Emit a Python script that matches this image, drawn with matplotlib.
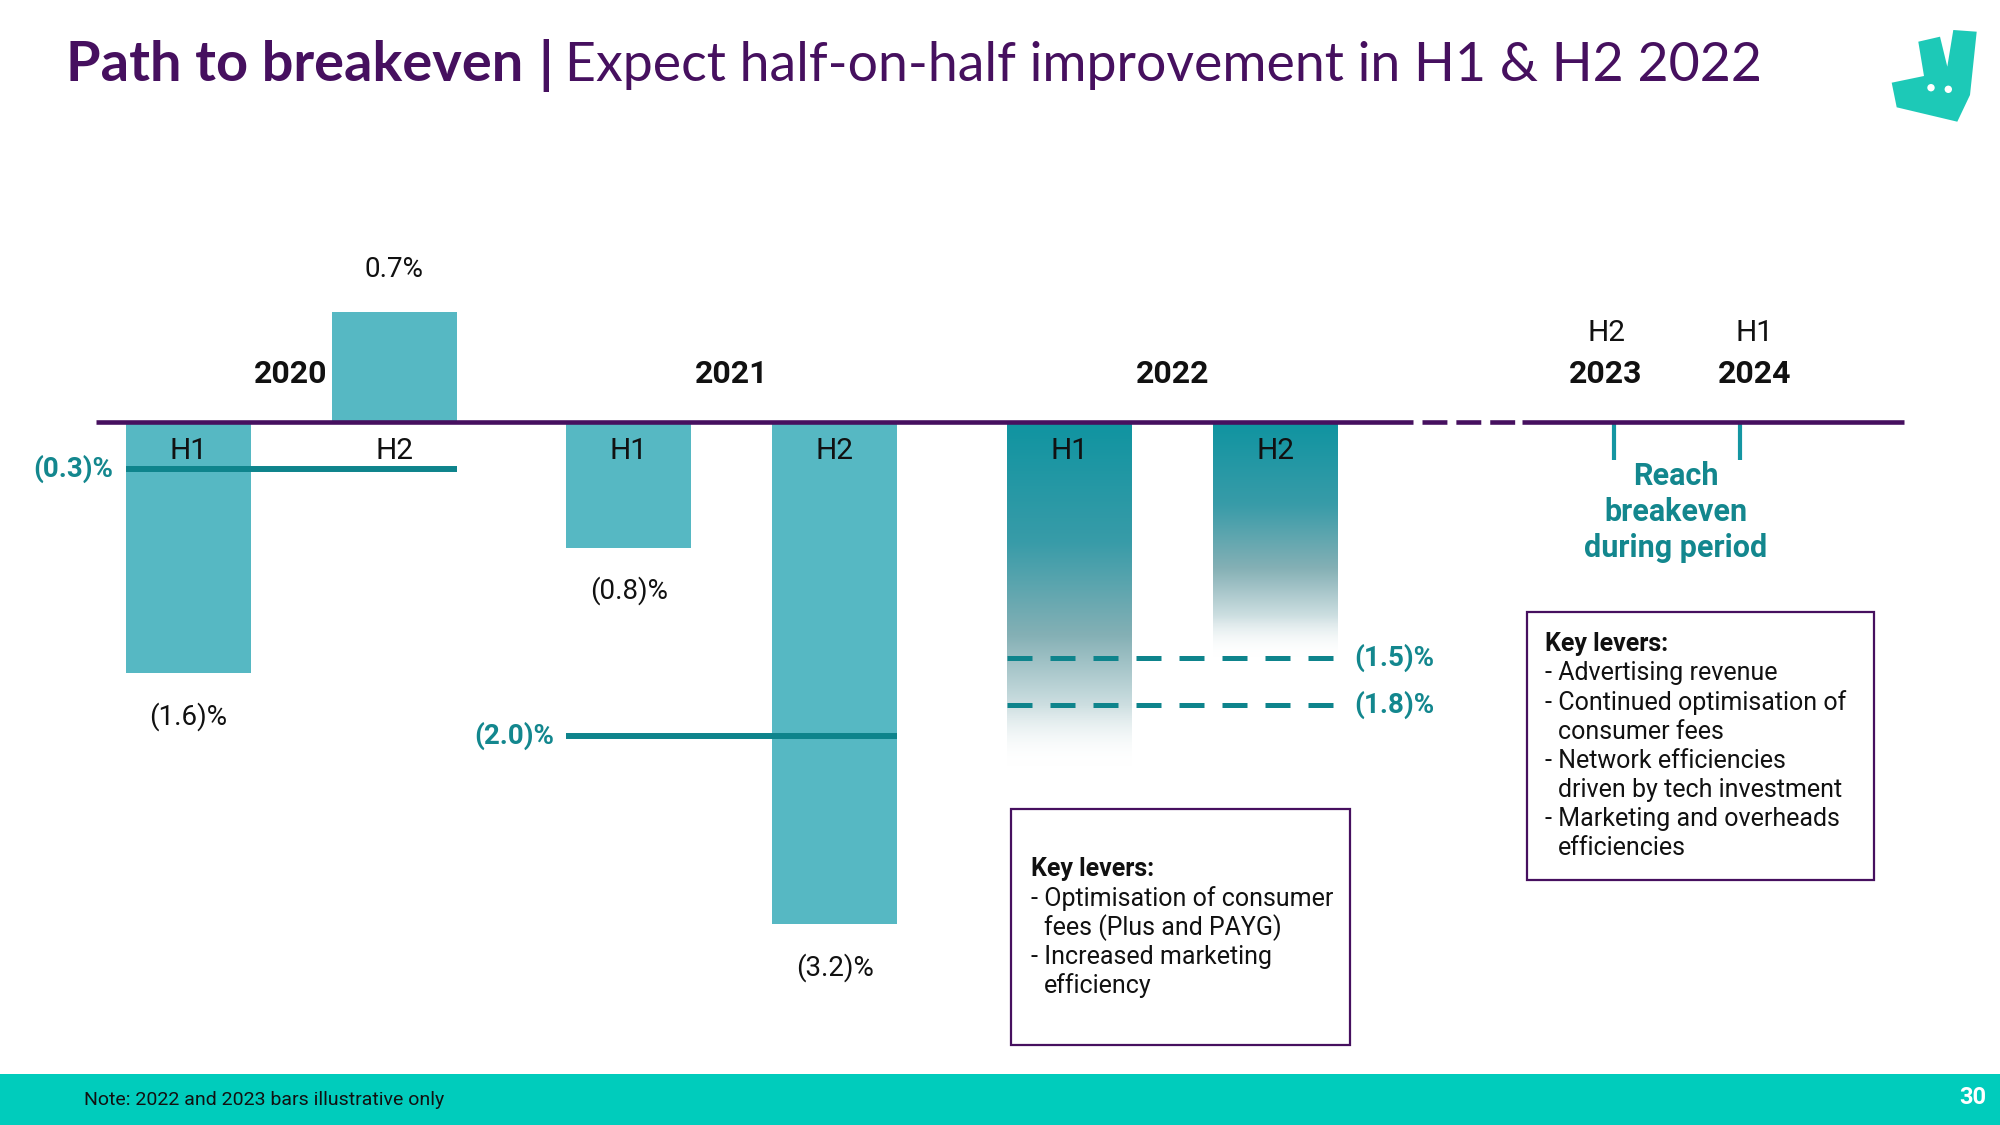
import numpy as np
import matplotlib
matplotlib.use("Agg")
import matplotlib.pyplot as plt
from matplotlib.patches import Rectangle, Polygon, Circle
from matplotlib.colors import LinearSegmentedColormap
from matplotlib.transforms import blended_transform_factory

# ---------------- data ----------------
years = ["2020", "2021", "2022"]
halves = ["H1", "H2"]
margin_2020 = [-1.6, 0.7]          # EBITDA margin by half, 2020
margin_2021 = [-0.8, -3.2]         # EBITDA margin by half, 2021
full_year_years = ["2020", "2021"]
full_year_margin = [-0.3, -2.0]
guidance_2022 = [-1.5, -1.8]
illustrative_2022 = [2.2, 1.5]     # depth of illustrative fading bars (H1, H2 2022)
breakeven_halves = ["H2", "H1"]
breakeven_years = ["2023", "2024"]
levers_2022 = ["- Optimisation of consumer", "  fees (Plus and PAYG)",
               "- Increased marketing", "  efficiency"]
levers_later = ["- Advertising revenue", "- Continued optimisation of",
                "  consumer fees", "- Network efficiencies",
                "  driven by tech investment", "- Marketing and overheads",
                "  efficiencies"]

# ---------------- style ----------------
PURPLE = "#46105F"
BAR = "#56B8C3"
TEAL_LINE = "#0E848C"
TEAL_TXT = "#13878E"
FOOTER = "#00CCBC"
FONT = "Roboto"
W, H = 2000, 1125
PT = 72 / 100  # points per pixel at dpi 100

fig = plt.figure(figsize=(20, 11.25), dpi=100)
bg = fig.add_axes([0, 0, 1, 1])
bg.set_xlim(0, W)
bg.set_ylim(H, 0)
bg.axis("off")

ax = fig.add_axes([0, 0, 1, 1])
ax.patch.set_alpha(0)
ax.axis("off")
SLOT = 206.0
X0 = 188.0
PX_PER_PCT = 157.0
ZERO_Y = 422.0
ax.set_xlim(-X0 / SLOT, (W - X0) / SLOT)
ax.set_ylim(-(H - ZERO_Y) / PX_PER_PCT, ZERO_Y / PX_PER_PCT)
GAP = 0.14
BW = 125 / SLOT


def pos(yi, hi):
    return yi * (2 + GAP) + hi


def fmt(v):
    return f"({abs(v):.1f})%" if v < 0 else f"{v:.1f}%"


# ---------------- zero line ----------------
mix = blended_transform_factory(bg.transData, ax.transData)
ax.plot([96, 1413], [0, 0], color=PURPLE, lw=3.3, transform=mix, solid_capstyle="butt", zorder=4)
ax.plot([1422, 1516], [0, 0], color=PURPLE, lw=3.3, transform=mix,
        linestyle=(0, (25 / 4.6, 9 / 4.6)), dash_capstyle="butt", zorder=4)
ax.plot([1522, 1904], [0, 0], color=PURPLE, lw=3.3, transform=mix, solid_capstyle="butt", zorder=4)

# ---------------- actual bars ----------------
actual = [margin_2020, margin_2021]
for yi, vals in enumerate(actual):
    for hi, v in enumerate(vals):
        x = pos(yi, hi)
        ax.bar(x, v, width=BW, color=BAR, zorder=2)
        off = 43 * PT if v > 0 else -43 * PT
        ax.annotate(fmt(v), (x, v), xytext=(0, off), textcoords="offset points",
                    ha="center", va="center", fontsize=20, family=FONT, color="#111111")

# ---------------- illustrative 2022 gradient bars ----------------
cmap = LinearSegmentedColormap.from_list(
    "fade", [(0.0, (0.06, 0.58, 0.63, 1.0)), (0.35, (0.22, 0.61, 0.66, 1.0)),
             (0.62, (0.52, 0.69, 0.71, 1.0)), (0.82, (0.80, 0.87, 0.88, 1.0)),
             (1.0, (1.0, 1.0, 1.0, 0.0))])
grad = np.linspace(0, 1, 256).reshape(-1, 1)
for hi, d in enumerate(illustrative_2022):
    x = pos(2, hi)
    ax.imshow(grad, cmap=cmap, extent=[x - BW / 2, x + BW / 2, -d, 0],
              origin="upper", aspect="auto", zorder=1, interpolation="bilinear")
ax.set_xlim(-X0 / SLOT, (W - X0) / SLOT)
ax.set_ylim(-(H - ZERO_Y) / PX_PER_PCT, ZERO_Y / PX_PER_PCT)

# ---------------- H labels and year labels ----------------
for yi, yr in enumerate(years):
    for hi, hl in enumerate(halves):
        ax.annotate(hl, (pos(yi, hi), 0), xytext=(0, -29 * PT), textcoords="offset points",
                    ha="center", va="center", fontsize=21.5, family=FONT, color="#111111", zorder=5)
    ax.annotate(yr, (pos(yi, 0) + 0.5, 0), xytext=(0, 48 * PT), textcoords="offset points",
                ha="center", va="center", fontsize=23, family=FONT, fontweight="bold",
                color="#111111", zorder=5)

# ---------------- full-year lines ----------------
for yi, (yr, v) in enumerate(zip(full_year_years, full_year_margin)):
    xl = pos(yi, 0) - BW / 2
    xr = pos(yi, 1) + BW / 2
    ax.plot([xl, xr], [v, v], color=TEAL_LINE, lw=4.3, solid_capstyle="butt", zorder=3)
    ax.annotate(fmt(v), (xl, v), xytext=(-12 * PT, 0), textcoords="offset points",
                ha="right", va="center", fontsize=20, family=FONT, fontweight="bold",
                color=TEAL_TXT)

# ---------------- 2022 guidance dashed lines ----------------
for v in guidance_2022:
    xl = pos(2, 0) - BW / 2
    xr = pos(2, 1) + BW / 2
    ax.plot([xl, xr], [v, v], color=TEAL_LINE, lw=3.6,
            linestyle=(0, (25 / 5, 18 / 5)), dash_capstyle="butt", zorder=3)
    ax.annotate(fmt(v), (xr, v), xytext=(16 * PT, 0), textcoords="offset points",
                ha="left", va="center", fontsize=20, family=FONT, fontweight="bold",
                color=TEAL_TXT)

# ---------------- breakeven period ----------------
be_x = [1606, 1755]
for x, hl, yr in zip(be_x, breakeven_halves, breakeven_years):
    bg.text(x, 333, hl, ha="center", va="center", fontsize=21.5, family=FONT, color="#111111")
    bg.text(x, 374, yr, ha="center", va="center", fontsize=23, family=FONT,
            fontweight="bold", color="#111111")
for x in [1614, 1740]:
    ax.plot([x, x], [0, -38 / PX_PER_PCT], color="#1496A2", lw=3, transform=mix,
            solid_capstyle="butt", zorder=3)
for i, line in enumerate(["Reach", "breakeven", "during period"]):
    bg.text(1676, 476 + i * 36, line, ha="center", va="center", fontsize=22,
            family=FONT, fontweight="bold", color=TEAL_TXT)

# ---------------- key levers boxes ----------------
def lever_box(x, y, w, h, tx, ty, lines):
    bg.add_patch(Rectangle((x, y), w, h, fill=False, edgecolor=PURPLE, lw=1.6))
    bg.text(tx, ty, "Key levers:", ha="left", va="center", fontsize=18, family=FONT,
            fontweight="bold", color="#111111")
    for i, ln in enumerate(lines):
        indent = 13 if ln.startswith("  ") else 0
        bg.text(tx + indent, ty + (i + 1) * 29.2, ln.strip(), ha="left", va="center",
                fontsize=18, family=FONT, color="#111111")


lever_box(1011, 809, 339, 236, 1031, 869, levers_2022)
lever_box(1527, 612, 347, 268, 1545, 644, levers_later)

# ---------------- footer ----------------
bg.add_patch(Rectangle((0, 1074), W, H - 1074, color=FOOTER, lw=0))
bg.text(84, 1100, "Note: 2022 and 2023 bars illustrative only", ha="left", va="center",
        fontsize=14, family=FONT, color="#111111")
bg.text(1986, 1098, "30", ha="right", va="center", fontsize=17, family=FONT,
        fontweight="bold", color="white")

# ---------------- logo ----------------
logo = [(1918.3, 41.7), (1940, 36.7), (1947.3, 66.7), (1953.3, 30), (1976.7, 31.7),
        (1970, 95), (1957.3, 121.7), (1896.7, 107.3), (1891.7, 82.7), (1924, 76)]
bg.add_patch(Polygon(logo, closed=True, color="#1DC9B7", lw=0))
bg.add_patch(Circle((1931, 87.7), 3.7, color="white", lw=0))
bg.add_patch(Circle((1948.3, 89.3), 3.7, color="white", lw=0))

# ---------------- title ----------------
fig.canvas.draw()
r = fig.canvas.get_renderer()
TY = 65
t1 = bg.text(66, TY, "Path to breakeven", ha="left", va="center", fontsize=36,
             family="Lato", fontweight="bold", color=PURPLE)
t2 = bg.text(546, TY, "|", ha="center", va="center", fontsize=36,
             family="Lato", fontweight="bold", color=PURPLE)
t3 = bg.text(565, TY, "Expect half-on-half improvement in H1 & H2 2022", ha="left",
             va="center", fontsize=36, family="Lato", color=PURPLE)
w1 = t1.get_window_extent(r).width
w3 = t3.get_window_extent(r).width
t1.set_fontsize(36 * 457 / w1)
t3.set_fontsize(36 * 1198 / w3)
t2.set_fontsize(36 * 457 / w1)

fig.savefig("out.png", dpi=100)
